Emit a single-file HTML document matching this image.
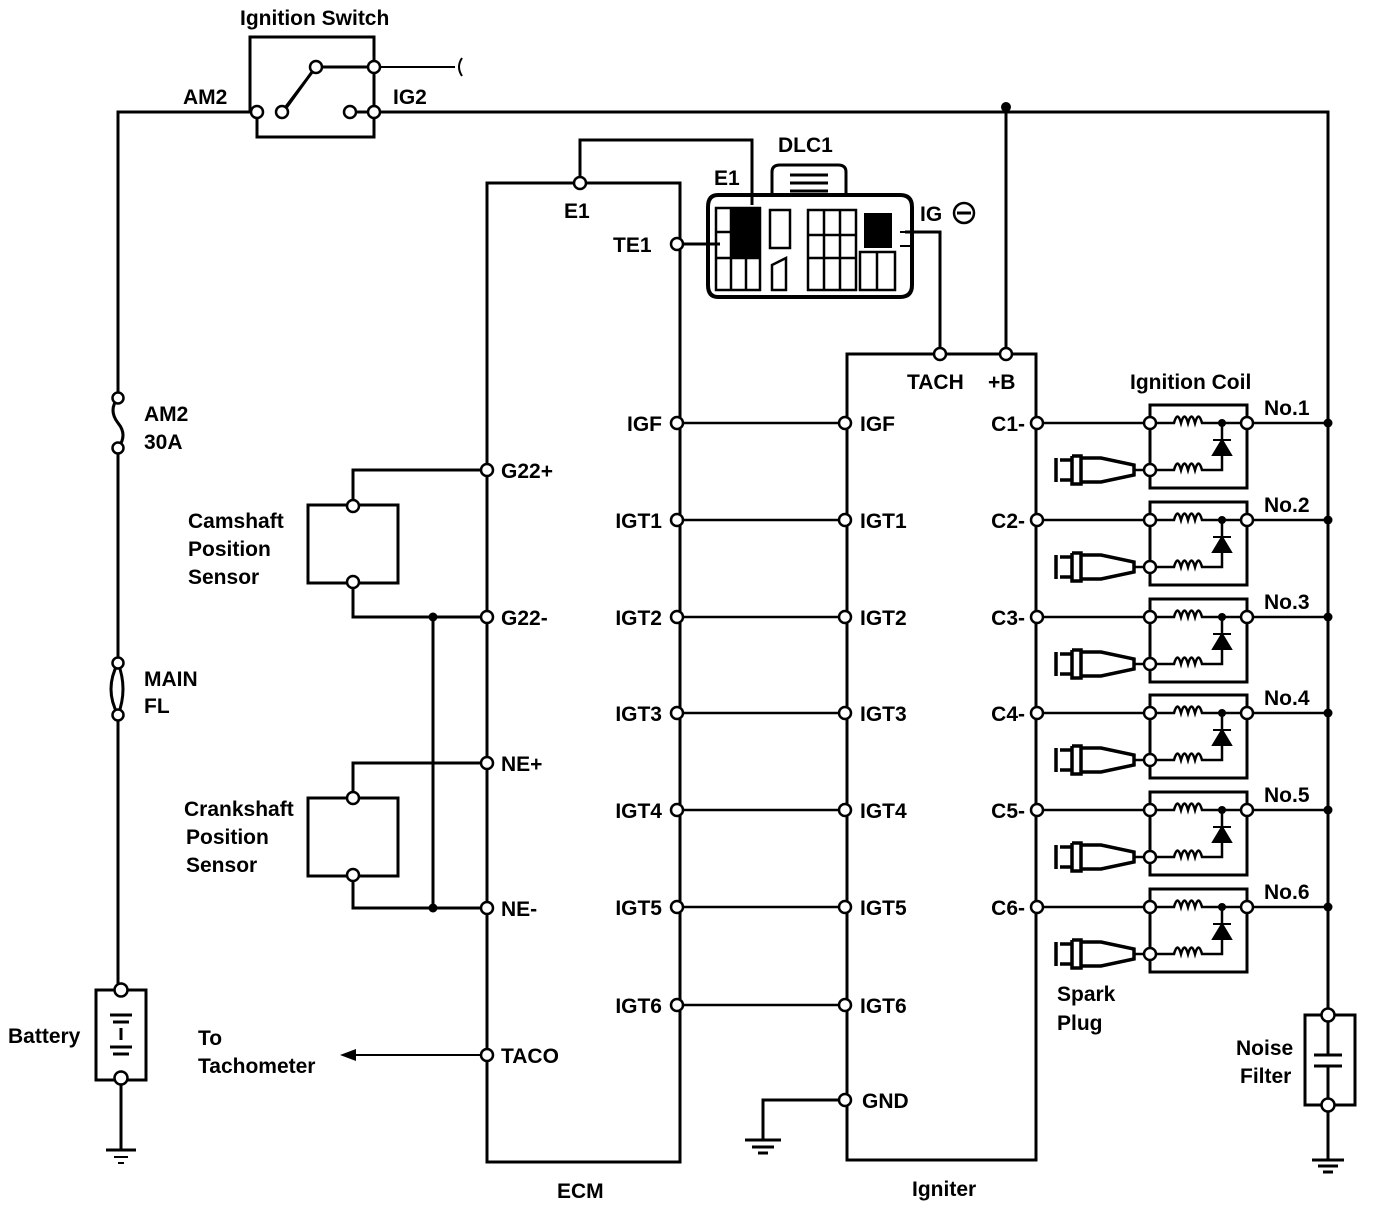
<!DOCTYPE html>
<html><head><meta charset="utf-8"><style>
html,body{margin:0;padding:0;background:#fff}
svg text{font-family:"Liberation Sans",sans-serif;font-weight:bold;font-size:21px;fill:#000}
</style></head><body>
<svg width="1376" height="1210" viewBox="0 0 1376 1210" xmlns="http://www.w3.org/2000/svg">
<defs>
<g id="coil">
  <path d="M1150,405 V488 H1247 V405 Z" fill="none" stroke="#000" stroke-width="3"/>
  <path d="M1150,423 H1174 q3.5,-13 7,0 q3.5,-13 7,0 q3.5,-13 7,0 q3.5,-13 7,0 H1247" fill="none" stroke="#000" stroke-width="2.5"/>
  <path d="M1150,470 H1174 q3.5,-13 7,0 q3.5,-13 7,0 q3.5,-13 7,0 q3.5,-13 7,0 H1222 V423" fill="none" stroke="#000" stroke-width="2.5"/>
  <path d="M1213,440 H1231 M1222,440 L1213,455 H1231 Z" fill="#000" stroke="#000" stroke-width="2"/>
  <circle cx="1222" cy="423" r="4" fill="#000"/>
  <path d="M1247,423 H1328" stroke="#000" stroke-width="2.5"/>
  <circle cx="1328" cy="423" r="4.5" fill="#000"/>
  <path d="M1037,423 H1150" stroke="#000" stroke-width="2.5"/>
  <path d="M1134,470 H1150" stroke="#000" stroke-width="2.5"/>
  <path d="M1056,458 v24 M1060,460 h12 v20 h-12 M1072,456 h9 v28 h-9 v-28 M1081,458 h20 l33,7 v10 l-33,7 h-20" fill="none" stroke="#000" stroke-width="3.5"/>
  <circle cx="1150" cy="423" r="6" fill="#fff" stroke="#000" stroke-width="2.5"/>
  <circle cx="1150" cy="470" r="6" fill="#fff" stroke="#000" stroke-width="2.5"/>
  <circle cx="1247" cy="423" r="6" fill="#fff" stroke="#000" stroke-width="2.5"/>
  <circle cx="1037" cy="423" r="6" fill="#fff" stroke="#000" stroke-width="2.5"/>
</g>
<g id="row">
  <path d="M677,423 H845" stroke="#000" stroke-width="2.5"/>
  <circle cx="677" cy="423" r="6" fill="#fff" stroke="#000" stroke-width="2.5"/>
  <circle cx="845" cy="423" r="6" fill="#fff" stroke="#000" stroke-width="2.5"/>
</g>
</defs>
<g fill="none" stroke="#000" stroke-width="3">
  <path d="M118,990 V715 M118,663 V448 M118,398 V112 H257"/>
  <path d="M374,112 H1328 V1015"/>
  <path d="M1006,107 V354"/>
  <path d="M257,112 V137 H374 V37 H250 V112"/>
  <path d="M282,112 L316,67 M286,108 L312,72"/>
  <path d="M316,67 H374 V112 M350,112 H374"/>
  <path d="M374,67 H455 M462,58 q-6,9 0,18" stroke-width="2"/>
  <path d="M118,398 q-10,12 0,25 q10,12 0,25" stroke-width="3"/>
  <path d="M118,663 q-14,26 0,52 M118,663 q10,26 0,52" stroke-width="3"/>
  <path d="M96,990 H146 V1080 H96 Z"/>
  <path d="M121,1080 V1150 M106,1150 H136"/>
  <path d="M110,1015 H132 M113,1022 H129 M121,1028 V1040 M110,1047 H132 M113,1054 H129" stroke-width="3"/>
  <path d="M114,1157 H128 M118,1163 H124" stroke-width="2"/>
  <path d="M487,183 H680 V1162 H487 Z"/>
  <path d="M580,183 V140 H752 V205"/>
  <path d="M677,244 H720"/>
  <path d="M847,354 H1036 V1160 H847 Z"/>
  <path d="M905,232 H940 V354"/>
  <path d="M845,1100 H763 V1140 M745,1140 H781 M752,1147 H774 M758,1153 H768"/>
  <path d="M308,505 H398 V583 H308 Z"/>
  <path d="M353,506 V470 H487 M353,582 V617 H487"/>
  <path d="M308,798 H398 V876 H308 Z"/>
  <path d="M353,798 V763 H487 M353,875 V908 H487"/>
  <path d="M433,617 V908"/>
  <path d="M487,1055 H355" stroke-width="2"/>
  <path d="M1305,1015 H1355 V1105 H1305 Z"/>
  <path d="M1328,1015 V1055 M1314,1055 H1342 M1314,1066 H1342 M1328,1066 V1105 M1328,1105 V1160 M1312,1160 H1344 M1318,1166 H1338 M1323,1172 H1333"/>
  <path d="M718,195 H900 Q912,195 912,207 V285 Q912,297 900,297 H718 Q708,297 708,285 V207 Q708,195 718,195 Z" stroke-width="4"/>
  <path d="M772,195 V172 Q772,165 780,165 H838 Q846,165 846,172 V195" stroke-width="3"/>
  <path d="M790,175 H828 M790,183 H828 M790,191 H828" stroke-width="3"/>
  <path d="M716,208 H760 V290 H716 Z M716,232 H760 M716,258 H760 M731,208 V290 M746,208 V290" stroke-width="2.5"/>
  <path d="M770,210 H790 V248 H770 Z M772,265 L786,258 V290 H772 Z M808,210 H856 V290 H808 Z M808,235 H856 M808,258 H856 M824,210 V290 M840,210 V290 M860,252 H895 V290 H860 Z M877,252 V290" stroke-width="2.5"/>
  <path d="M900,232 H912 V246 H900" stroke-width="2"/>
</g>
<rect x="731" y="208" width="29" height="50" fill="#000"/>
<rect x="864" y="213" width="28" height="35" fill="#000"/>
<path d="M340,1055 L356,1049 V1061 Z" fill="#000"/>
<g fill="#000">
<circle cx="1006" cy="107" r="5"/><circle cx="433" cy="617" r="4.5"/><circle cx="433" cy="908" r="4.5"/>
</g>
<use href="#row"/>
<use href="#row" y="97"/>
<use href="#row" y="194"/>
<use href="#row" y="290"/>
<use href="#row" y="387"/>
<use href="#row" y="484"/>
<use href="#row" y="582"/>
<use href="#coil"/>
<use href="#coil" y="97"/>
<use href="#coil" y="194"/>
<use href="#coil" y="290"/>
<use href="#coil" y="387"/>
<use href="#coil" y="484"/>
<g fill="#fff" stroke="#000" stroke-width="2.5">
<circle cx="257" cy="112" r="6"/><circle cx="282" cy="112" r="6"/><circle cx="350" cy="112" r="6"/><circle cx="374" cy="112" r="6"/><circle cx="316" cy="67" r="6"/><circle cx="374" cy="67" r="6"/>
<circle cx="118" cy="398" r="5.5"/><circle cx="118" cy="448" r="5.5"/><circle cx="118" cy="663" r="5.5"/><circle cx="118" cy="715" r="5.5"/>
<circle cx="121" cy="990" r="6.5"/><circle cx="121" cy="1078" r="6.5"/>
<circle cx="580" cy="183" r="6"/><circle cx="677" cy="244" r="6"/>
<circle cx="940" cy="354" r="6"/><circle cx="1006" cy="354" r="6"/>
<circle cx="353" cy="506" r="6"/><circle cx="353" cy="582" r="6"/><circle cx="353" cy="798" r="6"/><circle cx="353" cy="875" r="6"/>
<circle cx="487" cy="470" r="6"/><circle cx="487" cy="617" r="6"/><circle cx="487" cy="763" r="6"/><circle cx="487" cy="908" r="6"/><circle cx="487" cy="1055" r="6"/>
<circle cx="845" cy="1100" r="6"/>
<circle cx="1328" cy="1015" r="6.5"/><circle cx="1328" cy="1105" r="6.5"/>
</g>
<text x="240" y="25">Ignition Switch</text>
<text x="183" y="104">AM2</text><text x="393" y="104">IG2</text>
<text x="144" y="421">AM2</text><text x="144" y="449">30A</text>
<text x="144" y="686">MAIN</text><text x="144" y="713">FL</text>
<text x="8" y="1043">Battery</text>
<text x="188" y="528">Camshaft</text><text x="188" y="556">Position</text><text x="188" y="584">Sensor</text>
<text x="184" y="816">Crankshaft</text><text x="186" y="844">Position</text><text x="186" y="872">Sensor</text>
<text x="198" y="1045">To</text><text x="198" y="1073">Tachometer</text>
<text x="501" y="478">G22+</text><text x="501" y="625">G22-</text><text x="501" y="771">NE+</text><text x="501" y="916">NE-</text><text x="501" y="1063">TACO</text>
<text x="564" y="218">E1</text><text x="613" y="252">TE1</text>
<text x="714" y="185">E1</text><text x="778" y="152">DLC1</text>
<text x="920" y="221">IG</text><circle cx="964" cy="213" r="10" fill="none" stroke="#000" stroke-width="2.5"/><path d="M957,213 H971" stroke="#000" stroke-width="3"/>
<g text-anchor="end">
<text x="662" y="431">IGF</text><text x="662" y="528">IGT1</text><text x="662" y="625">IGT2</text><text x="662" y="721">IGT3</text><text x="662" y="818">IGT4</text><text x="662" y="915">IGT5</text><text x="662" y="1013">IGT6</text>
<text x="1025" y="431">C1-</text><text x="1025" y="528">C2-</text><text x="1025" y="625">C3-</text><text x="1025" y="721">C4-</text><text x="1025" y="818">C5-</text><text x="1025" y="915">C6-</text>
</g>
<text x="860" y="431">IGF</text><text x="860" y="528">IGT1</text><text x="860" y="625">IGT2</text><text x="860" y="721">IGT3</text><text x="860" y="818">IGT4</text><text x="860" y="915">IGT5</text><text x="860" y="1013">IGT6</text><text x="862" y="1108">GND</text>
<text x="907" y="389">TACH</text><text x="988" y="389">+B</text>
<text x="1130" y="389">Ignition Coil</text>
<text x="1264" y="415">No.1</text><text x="1264" y="512">No.2</text><text x="1264" y="609">No.3</text><text x="1264" y="705">No.4</text><text x="1264" y="802">No.5</text><text x="1264" y="899">No.6</text>
<text x="1057" y="1001">Spark</text><text x="1057" y="1030">Plug</text>
<text x="1236" y="1055">Noise</text><text x="1240" y="1083">Filter</text>
<text x="557" y="1198">ECM</text><text x="912" y="1196">Igniter</text>
</svg>
</body></html>
